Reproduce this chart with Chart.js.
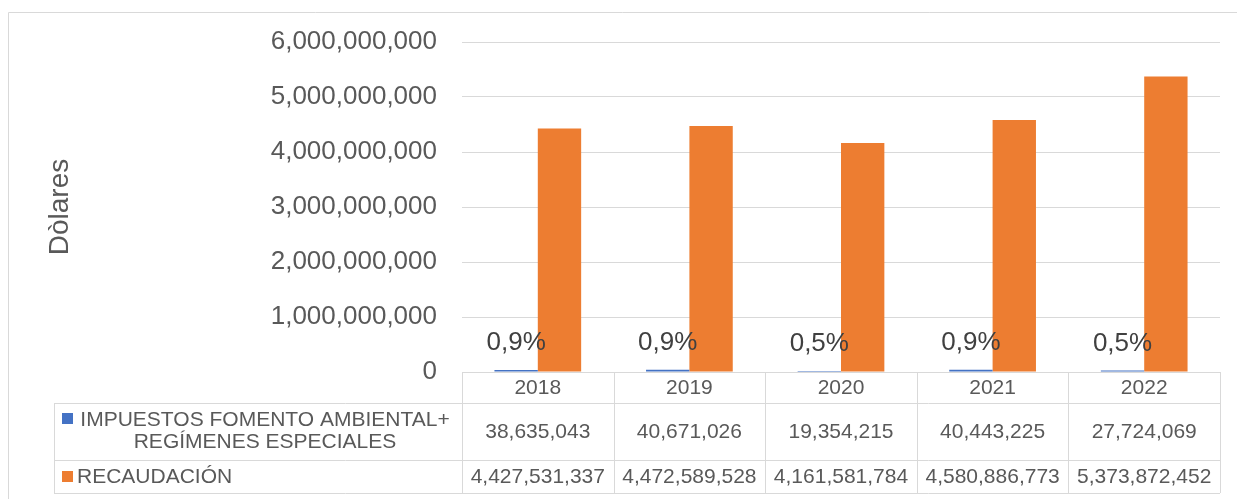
<!DOCTYPE html>
<html>
<head>
<meta charset="utf-8">
<script src="https://cdn.jsdelivr.net/npm/chart.js@4.4.1/dist/chart.umd.min.js"></script>
<style>
  body { margin: 0; background: #fff; }
  #wrap { width: 1237px; height: 499px; position: relative; }
</style>
</head>
<body>
<div id="wrap"><canvas id="grafico" width="1237" height="499"></canvas></div>
<script>
// Datos
const anios = ["2018", "2019", "2020", "2021", "2022"];
const impuestos = [38635043, 40671026, 19354215, 40443225, 27724069];
const recaudacion = [4427531337, 4472589528, 4161581784, 4580886773, 5373872452];
const porcentajes = ["0,9%", "0,9%", "0,5%", "0,9%", "0,5%"];
const nombreSerie1 = ["IMPUESTOS FOMENTO AMBIENTAL+", "REGÍMENES ESPECIALES"];
const nombreSerie2 = "RECAUDACIÓN";

const AZUL = "#4472C4";
const NARANJA = "#ED7D31";
const LINEA = "#d9d9d9";
const TEXTO = "#595959";
const FUENTE = "'Liberation Sans', Arial, sans-serif";

const fmt = n => n.toLocaleString("en-US");

// Etiquetas de porcentaje sobre la serie azul
const etiquetas = {
  id: "etiquetas",
  afterDatasetsDraw(chart) {
    const ctx = chart.ctx;
    const meta = chart.getDatasetMeta(0);
    ctx.save();
    ctx.font = "26px " + FUENTE;
    ctx.fillStyle = "#404040";
    ctx.textAlign = "center";
    ctx.textBaseline = "middle";
    meta.data.forEach((bar, i) => {
      ctx.fillText(porcentajes[i], bar.x, bar.y - 27);
    });
    ctx.restore();
  }
};

// Tabla de datos debajo del gráfico + marco exterior
const tabla = {
  id: "tabla",
  afterDraw(chart) {
    const ctx = chart.ctx;
    const x = chart.scales.x;
    const area = chart.chartArea;
    const paso = (area.right - area.left) / anios.length;
    const filas = [area.bottom, 403, 460, 493];
    const izq = 54;

    ctx.save();
    ctx.strokeStyle = LINEA;
    ctx.lineWidth = 1;

    // marco exterior
    ctx.beginPath();
    ctx.moveTo(8.5, chart.height);
    ctx.lineTo(8.5, 12.5);
    ctx.lineTo(chart.width, 12.5);
    ctx.stroke();

    // líneas horizontales
    ctx.beginPath();
    ctx.moveTo(area.left, filas[0] + 0.5);
    ctx.lineTo(area.right, filas[0] + 0.5);
    for (let k = 1; k < filas.length; k++) {
      ctx.moveTo(izq, filas[k] + 0.5);
      ctx.lineTo(area.right, filas[k] + 0.5);
    }
    // líneas verticales
    for (let i = 0; i <= anios.length; i++) {
      const px = Math.round(area.left + i * paso) + 0.5;
      ctx.moveTo(px, filas[0]);
      ctx.lineTo(px, filas[3]);
    }
    ctx.moveTo(izq + 0.5, filas[1]);
    ctx.lineTo(izq + 0.5, filas[3]);
    ctx.stroke();

    // textos de celdas
    ctx.font = "21px " + FUENTE;
    ctx.fillStyle = TEXTO;
    ctx.textAlign = "center";
    ctx.textBaseline = "middle";
    anios.forEach((a, i) => {
      const cx = x.getPixelForValue(i);
      ctx.fillText(a, cx, 388);
      ctx.fillText(fmt(impuestos[i]), cx, 432);
      ctx.fillText(fmt(recaudacion[i]), cx, 477);
    });

    // leyenda dentro de la tabla
    ctx.fillStyle = AZUL;
    ctx.fillRect(62, 413, 11, 11);
    ctx.fillStyle = NARANJA;
    ctx.fillRect(62, 471, 11, 11);
    ctx.fillStyle = TEXTO;
    ctx.fillText(nombreSerie1[0], 265, 420);
    ctx.fillText(nombreSerie1[1], 265, 442);
    ctx.textAlign = "left";
    ctx.fillText(nombreSerie2, 77, 477);
    ctx.restore();
  }
};

new Chart(document.getElementById("grafico"), {
  type: "bar",
  data: {
    labels: anios,
    datasets: [
      { label: nombreSerie1.join(" "), data: impuestos, backgroundColor: AZUL },
      { label: nombreSerie2, data: recaudacion, backgroundColor: NARANJA }
    ]
  },
  options: {
    responsive: false,
    animation: false,
    layout: { padding: { left: 8, top: 42, right: 17, bottom: 127 } },
    datasets: { bar: { barPercentage: 1, categoryPercentage: 0.572 } },
    plugins: { legend: { display: false }, tooltip: { enabled: false } },
    scales: {
      x: { display: false },
      y: {
        min: 0,
        max: 6000000000,
        afterFit: s => { s.width = 454; },
        border: { display: false },
        grid: { color: LINEA, drawTicks: false },
        ticks: {
          stepSize: 1000000000,
          padding: 25,
          color: TEXTO,
          font: { family: FUENTE, size: 26 },
          callback: v => fmt(v)
        },
        title: {
          display: true,
          text: "Dòlares",
          color: TEXTO,
          font: { family: FUENTE, size: 28 },
          padding: { top: 35, bottom: 0 }
        }
      }
    }
  },
  plugins: [etiquetas, tabla]
});
</script>
</body>
</html>
